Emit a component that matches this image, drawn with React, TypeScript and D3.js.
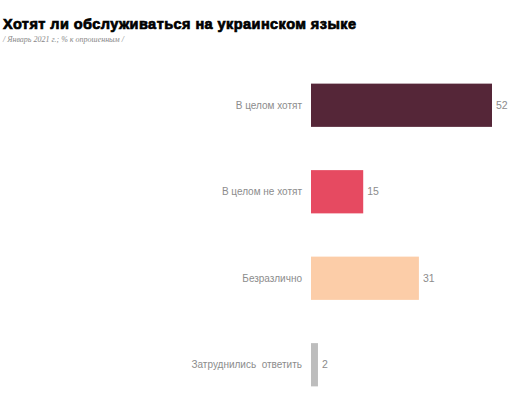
import React from 'react'
import * as d3 from 'd3'

const categories = ['В целом хотят', 'В целом не хотят', 'Безразлично', 'Затруднились  ответить']
const values = [52, 15, 31, 2]
const colors = ['#552638', '#e64a61', '#fccda8', '#bdbdbd']

const title = 'Хотят ли обслуживаться на украинском языке'
const subtitle = '/ Январь 2021 г.; % к опрошенным /'

const W = 525
const H = 406

export default function App() {
  const x = d3.scaleLinear().domain([0, d3.max(values)!]).range([311, 492])
  const y = d3.scaleBand<string>().domain(categories).range([62, 408]).paddingInner(0.5).paddingOuter(0.25)

  return (
    <div style={{ position: 'absolute', left: 0, top: 0 }}>
      <svg width={W} height={H} style={{ display: 'block', background: '#fff' }}>
        <text x={3} y={29} fontFamily="'Liberation Sans', Arial, sans-serif" fontWeight={900}
          fontSize={14.5} fill="#000" stroke="#000" strokeWidth={0.7} textLength={353} lengthAdjust="spacing">
          {title}
        </text>
        <text x={3} y={42} fontFamily="'Liberation Serif', serif" fontStyle="italic"
          fontSize={8} fill="#888">
          {subtitle}
        </text>

        {categories.map((c, i) => {
          const by = y(c)!
          const bh = y.bandwidth()
          const cy = by + bh / 2
          return (
            <g key={c}>
              <rect x={x(0)} y={by} width={x(values[i]) - x(0)} height={bh} fill={colors[i]} />
              <text x={x(0) - 9} y={cy} dy="0.35em" textAnchor="end"
                fontFamily="'Liberation Sans', Arial, sans-serif" fontSize={10} fill="#8c8c8c"
                style={{ whiteSpace: 'pre' }}>
                {c}
              </text>
              <text x={x(values[i]) + 4} y={cy} dy="0.35em"
                fontFamily="'Liberation Sans', Arial, sans-serif" fontSize={10.5} fill="#8c8c8c">
                {values[i]}
              </text>
            </g>
          )
        })}
      </svg>
    </div>
  )
}
